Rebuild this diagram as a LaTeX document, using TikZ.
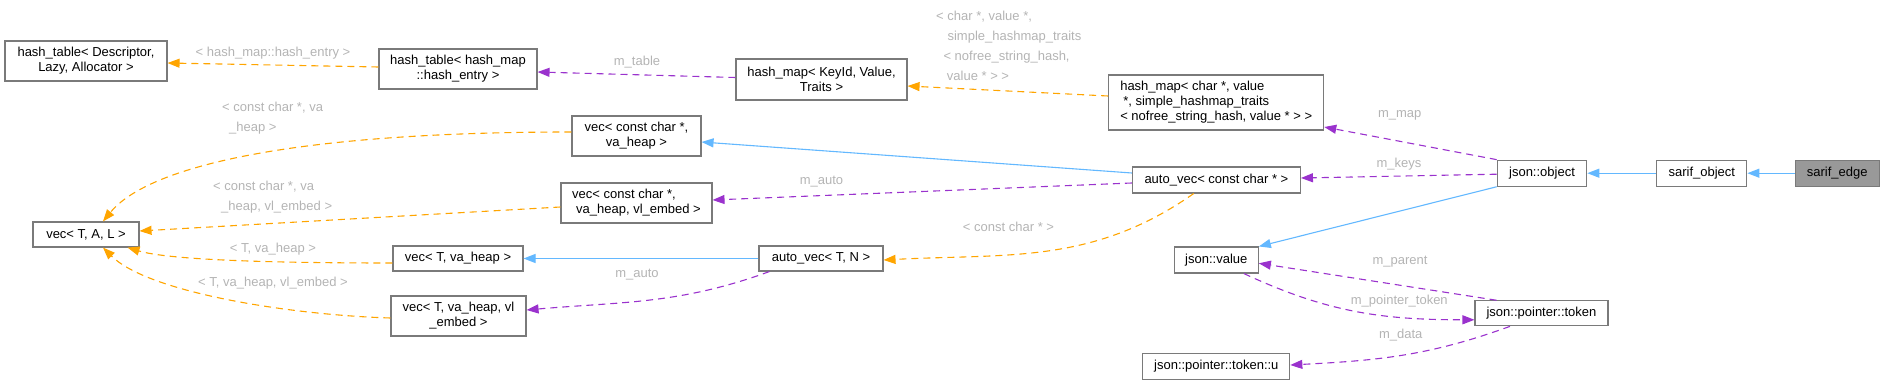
\documentclass[tikz,border=0pt]{standalone}
\usepackage{fontspec}
\setmainfont{Liberation Sans}
\usetikzlibrary{arrows.meta}
\definecolor{eblue}{HTML}{63B8FF}
\definecolor{epurple}{HTML}{9A32CD}
\definecolor{eorange}{HTML}{FFA500}
\definecolor{labgray}{HTML}{B4B4B4}
\definecolor{nodeborder}{HTML}{7A7A7A}
\definecolor{curfill}{HTML}{999999}
\newcommand\mynodefont{\fontsize{13}{15}\selectfont}
\newcommand\mylabelfont{\fontsize{13}{20}\selectfont}
\begin{document}
\begin{tikzpicture}[x=1pt,y=-1pt,
  box/.style={draw=nodeborder, line width=1.1pt, fill=white, inner sep=0pt, align=center, font=\mynodefont, text=black},
  lab/.style={text=labgray, font=\mylabelfont, inner sep=0pt, align=left},
  tip/.style={-{Triangle[length=12pt,width=9pt]}},
  inh/.style={draw=eblue, line width=1.1pt, tip},
  mem/.style={draw=epurple, line width=1.1pt, dash pattern=on 7pt off 5pt, tip},
  tpl/.style={draw=eorange, line width=1.1pt, dash pattern=on 7pt off 5pt, tip}]
\useasboundingbox (0,0) rectangle (1884,385);

% nodes
\node[box, minimum width=162pt, minimum height=40pt] (hd) at (86,61) {hash\_table< Descriptor,\\ Lazy, Allocator >};
\node[box, minimum width=158pt, minimum height=40pt] (hh) at (458,69) {hash\_table< hash\_map\\::hash\_entry >};
\node[box, minimum width=171pt, minimum height=41pt] (hmk) at (821.5,79.5) {hash\_map< KeyId, Value,\\Traits >};
\node[box, minimum width=215pt, minimum height=55pt, align=left] (hmc) at (1216.2,102.5) {hash\_map< char *, value\\\hspace*{3pt}*, simple\_hashmap\_traits\\< nofree\_string\_hash, value * > >};
\node[box, minimum width=129pt, minimum height=40pt] (vch) at (636.5,136) {vec< const char *,\\ va\_heap >};
\node[box, minimum width=151pt, minimum height=40pt, align=left] (vche) at (636.5,203) {vec< const char *,\\\hspace*{4pt}va\_heap, vl\_embed >};
\node[box, minimum width=106pt, minimum height=25pt] (vtal) at (86,234.5) {vec< T, A, L >};
\node[box, minimum width=130pt, minimum height=25pt] (vth) at (458,258.5) {vec< T, va\_heap >};
\node[box, minimum width=135pt, minimum height=40pt] (vthe) at (458.5,316) {vec< T, va\_heap, vl\\\_embed >};
\node[box, minimum width=124pt, minimum height=25pt] (avtn) at (821,258.5) {auto\_vec< T, N >};
\node[box, minimum width=168pt, minimum height=26pt] (avc) at (1216.4,180) {auto\_vec< const char * >};
\node[box, minimum width=84pt, minimum height=26pt] (jv) at (1216.3,260) {json::value};
\node[box, minimum width=147pt, minimum height=26pt] (jptu) at (1216.3,366.3) {json::pointer::token::u};
\node[box, minimum width=133pt, minimum height=25pt] (jpt) at (1541.5,313.3) {json::pointer::token};
\node[box, minimum width=89.5pt, minimum height=26pt] (jo) at (1542,173.2) {json::object};
\node[box, minimum width=90pt, minimum height=26pt] (so) at (1701.8,173.2) {sarif\_object};
\node[box, minimum width=84pt, minimum height=26pt, fill=curfill] (se) at (1837.2,173.2) {sarif\_edge};

% inheritance (blue)
\draw[inh] (se.west) -- (so.east);
\draw[inh] (so.west) -- (jo.east);
\draw[inh] (jo.south west) -- (jv.north east);
\draw[inh] ([yshift=7pt]avc.west) -- ([yshift=-6pt]vch.east);
\draw[inh] (avtn.west) -- (vth.east);

% members (purple)
\draw[mem] ([yshift=2pt]hmk.west) -- ([yshift=-3pt]hh.east);
\draw[mem] (jo.north west) -- ([yshift=-24.5pt]hmc.east);
\draw[mem] ([yshift=-1pt]jo.west) -- ([yshift=2pt]avc.east);
\draw[mem] ([yshift=-3pt]avc.west) -- ([yshift=3pt]vche.east);
\draw[mem] ([xshift=11pt]avtn.south west) to[out=200,in=5] ([yshift=6pt]vthe.east);
\draw[mem] ([xshift=-45pt]jpt.north) -- ([yshift=-3.3pt]jv.east);
\draw[mem] ([xshift=-15pt]jv.south east) to[out=-25,in=180] ([yshift=-6.5pt]jpt.west);
\draw[mem] ([xshift=-31.5pt]jpt.south) to[out=200,in=3] ([yshift=1.3pt]jptu.east);

% template instances (orange)
\draw[tpl] ([yshift=2pt]hh.west) -- ([yshift=-2pt]hd.east);
\draw[tpl] ([yshift=6.5pt]hmc.west) -- ([yshift=-6.5pt]hmk.east);
\draw[tpl] ([yshift=4pt]vch.west) .. controls +(-280,0) and +(45,-55) .. ([xshift=17pt]vtal.north);
\draw[tpl] ([yshift=-4pt]vche.west) -- ([yshift=3.5pt]vtal.east);
\draw[tpl] ([yshift=-4.5pt]vth.west) .. controls +(-130,0) and +(40,12) .. ([xshift=-12pt]vtal.south east);
\draw[tpl] ([yshift=-2pt]vthe.west) .. controls +(-100,-3) and +(45,45) .. ([xshift=17pt]vtal.south);
\draw[tpl] ([xshift=-22.7pt]avc.south) to[out=215,in=3] ([yshift=-1.5pt]avtn.east);

% labels
\node[lab] (l1) at (273,53) {< hash\_map::hash\_entry >};
\node[lab] (l2) at (637,62) {m\_table};
\node[lab, anchor=west] (l3) at (936,46) {< char *, value *,\\\hspace*{11.4pt}simple\_hashmap\_traits\\\hspace*{7.3pt}< nofree\_string\_hash,\\\hspace*{10.7pt}value * > >};
\node[lab, anchor=west] (l4) at (222,118) {< const char *, va\\\hspace*{7pt}\_heap >};
\node[lab, anchor=west] (l5) at (213,197.5) {< const char *, va\\\hspace*{8pt}\_heap, vl\_embed >};
\node[lab] (l6) at (273,249) {< T, va\_heap >};
\node[lab] (l7) at (273,283) {< T, va\_heap, vl\_embed >};
\node[lab] (l8) at (821.5,182) {m\_auto};
\node[lab] (l9) at (637,275) {m\_auto};
\node[lab] (l10) at (1008.5,227.3) {< const char * >};
\node[lab] (l11) at (1399.7,115) {m\_map};
\node[lab] (l12) at (1399,164.3) {m\_keys};
\node[lab] (l13) at (1400,261.7) {m\_parent};
\node[lab] (l14) at (1399.3,300.7) {m\_pointer\_token};
\node[lab] (l15) at (1400.7,335) {m\_data};
\end{tikzpicture}
\end{document}
